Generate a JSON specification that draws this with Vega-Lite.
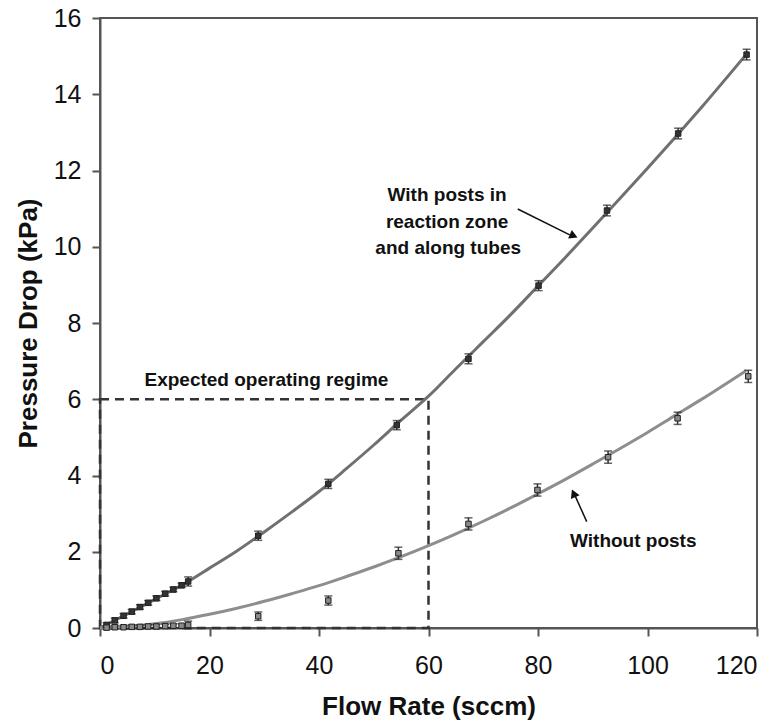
{
  "$schema": "https://vega.github.io/schema/vega-lite/v6.json",
  "autosize": {"type": "none"},
  "width": 657,
  "height": 610,
  "padding": {"left": 100, "top": 18, "right": 25, "bottom": 99},
  "background": "white",
  "config": {
    "view": {"stroke": "#555", "strokeWidth": 2},
    "font": "Liberation Sans",
    "axis": {
      "grid": false,
      "domainColor": "#555",
      "domainWidth": 2,
      "tickColor": "#555",
      "tickWidth": 2,
      "tickSize": 8,
      "labelFont": "Liberation Sans",
      "labelFontSize": 25,
      "labelColor": "#111",
      "titleFont": "Liberation Sans",
      "titleFontSize": 26,
      "titleFontWeight": "bold",
      "titleColor": "#111"
    }
  },
  "datasets": {
    "points": [
      {"series": "posts", "x": 1.2, "y": 0.08, "lo": 0.02, "hi": 0.14},
      {"series": "posts", "x": 2.7, "y": 0.2, "lo": 0.14, "hi": 0.26},
      {"series": "posts", "x": 4.3, "y": 0.32, "lo": 0.26, "hi": 0.38},
      {"series": "posts", "x": 5.8, "y": 0.43, "lo": 0.37, "hi": 0.49},
      {"series": "posts", "x": 7.3, "y": 0.55, "lo": 0.49, "hi": 0.61},
      {"series": "posts", "x": 8.8, "y": 0.66, "lo": 0.6, "hi": 0.72},
      {"series": "posts", "x": 10.3, "y": 0.78, "lo": 0.72, "hi": 0.84},
      {"series": "posts", "x": 11.9, "y": 0.9, "lo": 0.84, "hi": 0.96},
      {"series": "posts", "x": 13.4, "y": 1.01, "lo": 0.95, "hi": 1.07},
      {"series": "posts", "x": 14.9, "y": 1.12, "lo": 1.06, "hi": 1.18},
      {"series": "posts", "x": 16.1, "y": 1.22, "lo": 1.1, "hi": 1.34},
      {"series": "posts", "x": 28.9, "y": 2.42, "lo": 2.3, "hi": 2.54},
      {"series": "posts", "x": 41.7, "y": 3.78, "lo": 3.66, "hi": 3.9},
      {"series": "posts", "x": 54.2, "y": 5.32, "lo": 5.2, "hi": 5.44},
      {"series": "posts", "x": 67.3, "y": 7.06, "lo": 6.93, "hi": 7.19},
      {"series": "posts", "x": 80.1, "y": 8.98, "lo": 8.85, "hi": 9.11},
      {"series": "posts", "x": 92.6, "y": 10.95, "lo": 10.81, "hi": 11.09},
      {"series": "posts", "x": 105.6, "y": 12.97, "lo": 12.83, "hi": 13.11},
      {"series": "posts", "x": 118.1, "y": 15.04, "lo": 14.9, "hi": 15.18},
      {"series": "noposts", "x": 1.2, "y": 0.01, "lo": -0.04, "hi": 0.06},
      {"series": "noposts", "x": 2.7, "y": 0.02, "lo": -0.03, "hi": 0.07},
      {"series": "noposts", "x": 4.3, "y": 0.02, "lo": -0.03, "hi": 0.07},
      {"series": "noposts", "x": 5.8, "y": 0.03, "lo": -0.02, "hi": 0.08},
      {"series": "noposts", "x": 7.3, "y": 0.03, "lo": -0.02, "hi": 0.08},
      {"series": "noposts", "x": 8.8, "y": 0.04, "lo": -0.01, "hi": 0.09},
      {"series": "noposts", "x": 10.3, "y": 0.04, "lo": -0.01, "hi": 0.09},
      {"series": "noposts", "x": 11.9, "y": 0.05, "lo": 0.0, "hi": 0.1},
      {"series": "noposts", "x": 13.4, "y": 0.06, "lo": 0.01, "hi": 0.11},
      {"series": "noposts", "x": 14.9, "y": 0.06, "lo": 0.01, "hi": 0.11},
      {"series": "noposts", "x": 16.1, "y": 0.08, "lo": -0.02, "hi": 0.18},
      {"series": "noposts", "x": 28.9, "y": 0.31, "lo": 0.2, "hi": 0.42},
      {"series": "noposts", "x": 41.7, "y": 0.72, "lo": 0.6, "hi": 0.84},
      {"series": "noposts", "x": 54.5, "y": 1.96, "lo": 1.8, "hi": 2.12},
      {"series": "noposts", "x": 67.3, "y": 2.73, "lo": 2.57, "hi": 2.89},
      {"series": "noposts", "x": 79.9, "y": 3.62, "lo": 3.46, "hi": 3.78},
      {"series": "noposts", "x": 92.8, "y": 4.48, "lo": 4.32, "hi": 4.64},
      {"series": "noposts", "x": 105.5, "y": 5.5, "lo": 5.34, "hi": 5.66},
      {"series": "noposts", "x": 118.4, "y": 6.6, "lo": 6.44, "hi": 6.76}
    ],
    "curves": [
      {"series": "posts", "x": 0, "y": 0},
      {"series": "posts", "x": 5, "y": 0.37},
      {"series": "posts", "x": 10, "y": 0.75},
      {"series": "posts", "x": 16, "y": 1.21},
      {"series": "posts", "x": 20, "y": 1.57},
      {"series": "posts", "x": 25, "y": 2.02},
      {"series": "posts", "x": 30, "y": 2.52},
      {"series": "posts", "x": 35, "y": 3.04},
      {"series": "posts", "x": 40, "y": 3.58},
      {"series": "posts", "x": 45, "y": 4.18},
      {"series": "posts", "x": 50, "y": 4.8},
      {"series": "posts", "x": 55, "y": 5.45},
      {"series": "posts", "x": 60, "y": 6.08},
      {"series": "posts", "x": 65, "y": 6.8},
      {"series": "posts", "x": 70, "y": 7.51},
      {"series": "posts", "x": 75, "y": 8.22},
      {"series": "posts", "x": 80, "y": 8.97},
      {"series": "posts", "x": 85, "y": 9.72},
      {"series": "posts", "x": 90, "y": 10.49},
      {"series": "posts", "x": 95, "y": 11.27},
      {"series": "posts", "x": 100, "y": 12.06},
      {"series": "posts", "x": 105, "y": 12.86},
      {"series": "posts", "x": 110, "y": 13.68},
      {"series": "posts", "x": 118, "y": 15.04},
      {"series": "noposts", "x": 0, "y": 0},
      {"series": "noposts", "x": 5, "y": 0.04},
      {"series": "noposts", "x": 10, "y": 0.11},
      {"series": "noposts", "x": 15, "y": 0.22},
      {"series": "noposts", "x": 20, "y": 0.36},
      {"series": "noposts", "x": 25, "y": 0.52},
      {"series": "noposts", "x": 30, "y": 0.7},
      {"series": "noposts", "x": 35, "y": 0.9},
      {"series": "noposts", "x": 40, "y": 1.11},
      {"series": "noposts", "x": 45, "y": 1.35},
      {"series": "noposts", "x": 50, "y": 1.6},
      {"series": "noposts", "x": 55, "y": 1.87},
      {"series": "noposts", "x": 60, "y": 2.16},
      {"series": "noposts", "x": 65, "y": 2.47},
      {"series": "noposts", "x": 70, "y": 2.8},
      {"series": "noposts", "x": 75, "y": 3.15},
      {"series": "noposts", "x": 80, "y": 3.52},
      {"series": "noposts", "x": 85, "y": 3.9},
      {"series": "noposts", "x": 90, "y": 4.3},
      {"series": "noposts", "x": 95, "y": 4.71},
      {"series": "noposts", "x": 100, "y": 5.13},
      {"series": "noposts", "x": 105, "y": 5.57},
      {"series": "noposts", "x": 110, "y": 6.01},
      {"series": "noposts", "x": 118, "y": 6.75}
    ],
    "notes": [
      {"label": "With posts in", "x": 63.4, "y": 11.37},
      {"label": "reaction zone", "x": 63.4, "y": 10.64},
      {"label": "and along tubes", "x": 63.6, "y": 9.96},
      {"label": "Expected operating regime", "x": 30.4, "y": 6.51},
      {"label": "Without posts", "x": 97.4, "y": 2.27}
    ],
    "arrows": [
      {"name": "top", "x": 76.3, "y": 10.99, "x2": 85.8, "y2": 10.31},
      {"name": "bottom", "x": 88.9, "y": 2.79, "x2": 86.8, "y2": 3.46}
    ],
    "heads": [
      {"name": "top", "x": 86.3, "y": 10.3},
      {"name": "bottom", "x": 86.6, "y": 3.5}
    ]
  },
  "encoding": {
    "x": {"type": "quantitative"},
    "y": {"type": "quantitative"}
  },
  "layer": [
    {
      "data": {"values": [{"x": 0, "x2": 60, "y": 0, "y2": 6}]},
      "mark": {"type": "rect", "fill": null, "fillOpacity": 0, "stroke": "#333", "strokeWidth": 2.5, "strokeDash": [9, 6]},
      "encoding": {
        "x": {"field": "x", "type": "quantitative", "scale": {"domain": [0, 120], "nice": false},
              "axis": {"values": [0, 20, 40, 60, 80, 100, 120], "title": "Flow Rate (sccm)", "labelPadding": 17, "titleX": 328.5, "titleY": 78, "titleBaseline": "middle", "titleAlign": "center"}},
        "x2": {"field": "x2"},
        "y": {"field": "y", "type": "quantitative", "scale": {"domain": [0, 16], "nice": false},
              "axis": {"values": [0, 2, 4, 6, 8, 10, 12, 14, 16], "title": "Pressure Drop (kPa)", "labelPadding": 11, "titleX": -72, "titleY": 305, "titleAngle": -90, "titleBaseline": "middle", "titleAlign": "center"}},
        "y2": {"field": "y2"}
      }
    },
    {
      "data": {"name": "curves"},
      "mark": {"type": "line", "strokeWidth": 3, "interpolate": "monotone"},
      "encoding": {
        "x": {"field": "x", "type": "quantitative"},
        "y": {"field": "y", "type": "quantitative"},
        "color": {"field": "series", "type": "nominal", "scale": {"domain": ["posts", "noposts"], "range": ["#707070", "#8e8e8e"]}, "legend": null}
      }
    },
    {
      "data": {"name": "points"},
      "mark": {"type": "rule", "color": "#333", "strokeWidth": 1.5},
      "encoding": {
        "x": {"field": "x", "type": "quantitative"},
        "y": {"field": "lo", "type": "quantitative"},
        "y2": {"field": "hi"}
      }
    },
    {
      "data": {"name": "points"},
      "mark": {"type": "tick", "orient": "horizontal", "color": "#222", "size": 8, "thickness": 1.5},
      "encoding": {
        "x": {"field": "x", "type": "quantitative"},
        "y": {"field": "lo", "type": "quantitative"}
      }
    },
    {
      "data": {"name": "points"},
      "mark": {"type": "tick", "orient": "horizontal", "color": "#222", "size": 8, "thickness": 1.5},
      "encoding": {
        "x": {"field": "x", "type": "quantitative"},
        "y": {"field": "hi", "type": "quantitative"}
      }
    },
    {
      "data": {"name": "points"},
      "mark": {"type": "point", "shape": "square", "filled": true, "size": 30, "stroke": "#222", "strokeWidth": 1},
      "encoding": {
        "x": {"field": "x", "type": "quantitative"},
        "y": {"field": "y", "type": "quantitative"},
        "fill": {"field": "series", "type": "nominal", "scale": {"domain": ["posts", "noposts"], "range": ["#333333", "#8a8a8a"]}, "legend": null},
        "opacity": {"value": 1}
      }
    },
    {
      "data": {"name": "notes"},
      "mark": {"type": "text", "font": "Liberation Sans", "fontSize": 19, "fontWeight": "bold", "color": "#111", "align": "center", "baseline": "middle"},
      "encoding": {
        "x": {"field": "x", "type": "quantitative"},
        "y": {"field": "y", "type": "quantitative"},
        "text": {"field": "label"}
      }
    },
    {
      "data": {"name": "arrows"},
      "mark": {"type": "rule", "color": "#111", "strokeWidth": 1.5},
      "encoding": {
        "x": {"field": "x", "type": "quantitative"},
        "y": {"field": "y", "type": "quantitative"},
        "x2": {"field": "x2"},
        "y2": {"field": "y2"}
      }
    },
    {
      "data": {"name": "heads"},
      "transform": [{"filter": "datum.name === 'top'"}],
      "mark": {"type": "point", "shape": "triangle", "filled": true, "color": "#111", "size": 90, "angle": 113, "opacity": 1},
      "encoding": {
        "x": {"field": "x", "type": "quantitative"},
        "y": {"field": "y", "type": "quantitative"}
      }
    },
    {
      "data": {"name": "heads"},
      "transform": [{"filter": "datum.name === 'bottom'"}],
      "mark": {"type": "point", "shape": "triangle", "filled": true, "color": "#111", "size": 90, "angle": 336, "opacity": 1},
      "encoding": {
        "x": {"field": "x", "type": "quantitative"},
        "y": {"field": "y", "type": "quantitative"}
      }
    }
  ]
}
